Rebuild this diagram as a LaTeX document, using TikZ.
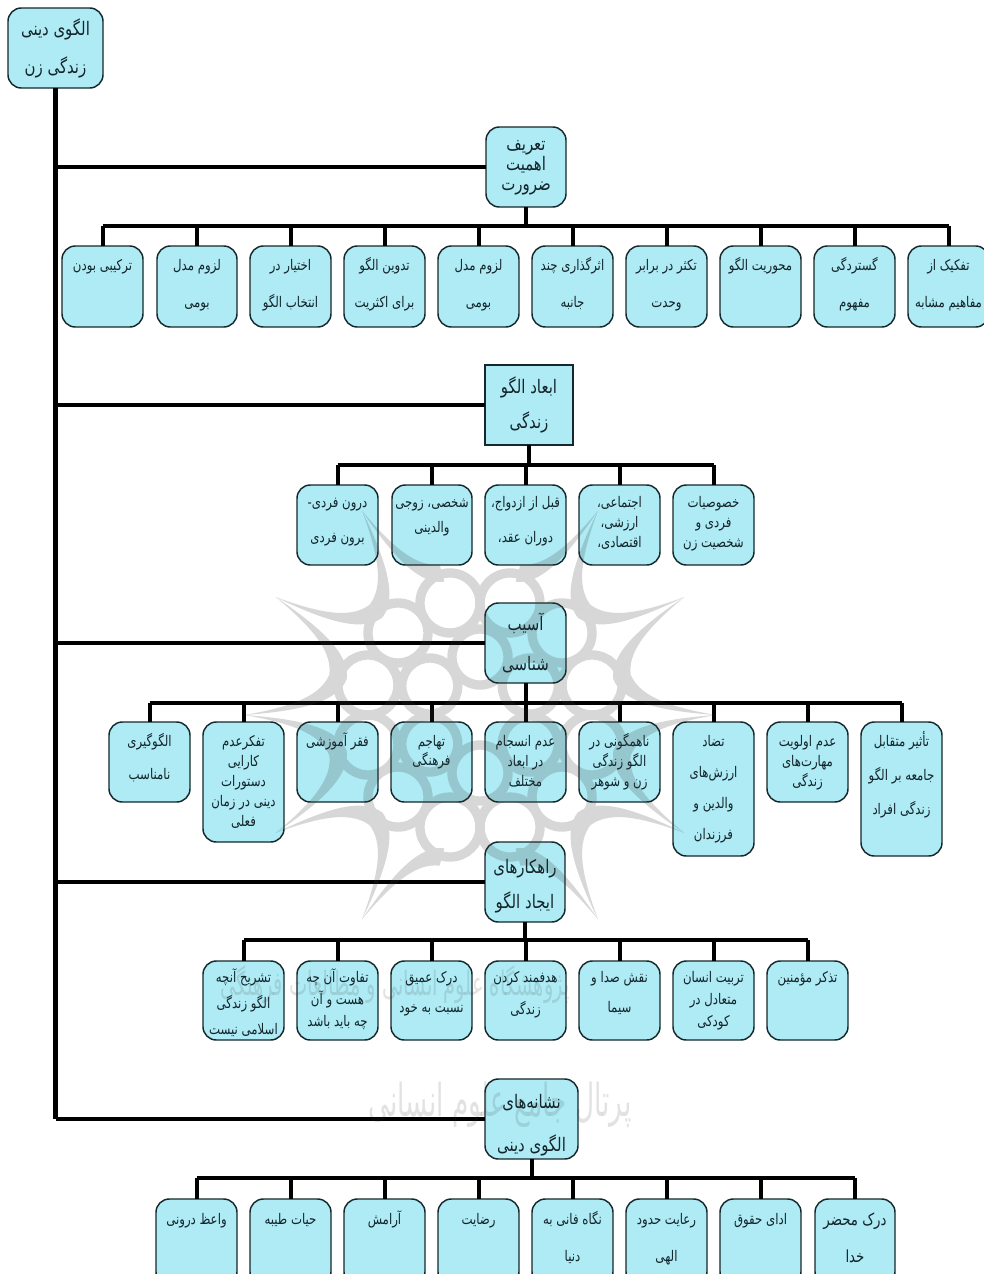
\documentclass[tikz,border=0pt]{standalone}
\usepackage{fontspec}
\setmainfont[Script=Arabic,FakeStretch=0.8]{DejaVu Sans}
\newfontfamily\wmfont[Script=Arabic]{DejaVu Sans}
\TeXXeTstate=1
\definecolor{boxfill}{HTML}{AEEBF4}
\definecolor{boxline}{HTML}{15282C}
\definecolor{boxtext}{HTML}{14242B}
\newdimen\pxu \pxu=0.75pt
\newdimen\skp
\newcommand\cs{11}
\newcommand\ps{14}
\newcommand\tl[1]{\hbox to \hsize{\hss\rule[\dimexpr-0.5\skp+0.3em\relax]{0pt}{\skp}\beginR #1\endR\hss}}
% \bx[style]{name}{x1}{y1}{x2}{y2}{first line offset}{line skip}{size}{lines}
\newcommand\bx[9][]{%
 \node[boxstyle,#1,minimum width={(#5-#3)*\pxu}] (#2) at ({(#3+#5)/2},{(#4+#6)/2})
 {\vbox to \dimexpr#6\pxu-#4\pxu\relax{\hsize=\dimexpr#5\pxu-#3\pxu\relax
   \fontsize{#8}{#8}\selectfont\skp=#7\pxu \offinterlineskip
   \vskip\dimexpr\bxoff\pxu-0.5\skp\relax #9\vfil}};}
\newcommand\bxoff{20}
\tikzset{
 boxstyle/.style={draw=boxline,fill=boxfill,text=boxtext,line width=1.1pt,rounded corners=10pt,inner sep=0pt,outer sep=0pt},
 sharp/.style={rounded corners=0pt},
 trunk/.style={draw=black,line width=3.6pt},
 bus/.style={draw=black,line width=3.4pt},
 drop/.style={draw=black,line width=3pt},
 wm/.style={draw=black!78,line width=7pt},
 wmf/.style={fill=black!78,draw=none},
 wmt/.style={text=black!78,transform shape}
}
\begin{document}
\begin{tikzpicture}[x=0.75pt,y=-0.75pt]
\clip (0,0) rectangle (984,1274);
\fill[white] (0,0) rectangle (984,1274);
% root and parents
\renewcommand\bxoff{22}\bx{root}{8}{8}{103}{88}{38}{\ps}{\tl{الگوی دینی}\tl{زندگی زن}}
\renewcommand\bxoff{18}\bx{pa}{486}{127}{566}{207}{20}{\ps}{\tl{تعریف}\tl{اهمیت}\tl{ضرورت}}
\renewcommand\bxoff{23}\bx[sharp]{pb}{485}{365}{573}{445}{35}{\ps}{\tl{ابعاد الگو}\tl{زندگی}}
\renewcommand\bxoff{22}\bx{pc}{485}{603}{566}{683}{40}{\ps}{\tl{آسیب}\tl{شناسی}}
\renewcommand\bxoff{26}\bx{pd}{485}{842}{565}{922}{35}{\ps}{\tl{راهکارهای}\tl{ایجاد الگو}}
\renewcommand\bxoff{24}\bx{pe}{485}{1079}{578}{1159}{43}{\ps}{\tl{نشانه‌های}\tl{الگوی دینی}}
% row a
\renewcommand\bxoff{20}
\bx{a1}{62}{246}{143}{327}{37}{\cs}{\tl{ترکیبی بودن}}
\bx{a2}{157}{246}{237}{327}{37}{\cs}{\tl{لزوم مدل}\tl{بومی}}
\bx{a3}{250}{246}{331}{327}{37}{\cs}{\tl{اختیار در}\tl{انتخاب الگو}}
\bx{a4}{344}{246}{425}{327}{37}{\cs}{\tl{تدوین الگو}\tl{برای اکثریت}}
\bx{a5}{438}{246}{519}{327}{37}{\cs}{\tl{لزوم مدل}\tl{بومی}}
\bx{a6}{532}{246}{613}{327}{37}{\cs}{\tl{اثرگذاری چند}\tl{جانبه}}
\bx{a7}{626}{246}{707}{327}{37}{\cs}{\tl{تکثر در برابر}\tl{وحدت}}
\bx{a8}{720}{246}{801}{327}{37}{\cs}{\tl{محوریت الگو}}
\bx{a9}{814}{246}{895}{327}{37}{\cs}{\tl{گستردگی}\tl{مفهوم}}
\bx{a10}{908}{246}{989}{327}{37}{\cs}{\tl{تفکیک از}\tl{مفاهیم مشابه}}
% row b
\renewcommand\bxoff{18}
\bx{b1}{297}{485}{378}{565}{35}{\cs}{\tl{درون فردی-}\tl{برون فردی}}
\bx{b2}{392}{485}{472}{565}{25}{\cs}{\tl{شخصی، زوجی}\tl{والدینی}}
\bx{b3}{485}{485}{566}{565}{35}{\cs}{\tl{قبل از ازدواج،}\tl{دوران عقد،}}
\bx{b4}{579}{485}{660}{565}{20}{\cs}{\tl{اجتماعی،}\tl{ارزشی،}\tl{اقتصادی،}}
\bx{b5}{673}{485}{754}{565}{20}{\cs}{\tl{خصوصیات}\tl{فردی و}\tl{شخصیت زن}}
% row c
\renewcommand\bxoff{20}
\bx{c1}{109}{722}{190}{802}{33}{\cs}{\tl{الگوگیری}\tl{نامناسب}}
\bx{c2}{203}{722}{284}{842}{20}{\cs}{\tl{تفکرعدم}\tl{کارایی}\tl{دستورات}\tl{دینی در زمان}\tl{فعلی}}
\bx{c3}{297}{722}{378}{802}{20}{\cs}{\tl{فقر آموزشی}}
\bx{c4}{391}{722}{472}{802}{19}{\cs}{\tl{تهاجم}\tl{فرهنگی}}
\bx{c5}{485}{722}{566}{802}{20}{\cs}{\tl{عدم انسجام}\tl{در ابعاد}\tl{مختلف}}
\bx{c6}{579}{722}{660}{802}{20}{\cs}{\tl{ناهمگونی در}\tl{الگو زندگی}\tl{زن و شوهر}}
\bx{c7}{673}{722}{754}{856}{31}{\cs}{\tl{تضاد}\tl{ارزش‌های}\tl{والدین و}\tl{فرزندان}}
\bx{c8}{767}{722}{848}{802}{20}{\cs}{\tl{عدم اولویت}\tl{مهارت‌های}\tl{زندگی}}
\bx{c9}{861}{722}{942}{856}{34}{\cs}{\tl{تأثیر متقابل}\tl{جامعه بر الگو}\tl{زندگی افراد}}
% row d
\renewcommand\bxoff{17}
\bx{d1}{203}{961}{284}{1040}{26}{\cs}{\tl{تشریح آنچه}\tl{الگو زندگی}\tl{اسلامی نیست}}
\bx{d2}{297}{961}{378}{1040}{22}{\cs}{\tl{تفاوت آن چه}\tl{هست و آن}\tl{چه باید باشد}}
\bx{d3}{391}{961}{472}{1040}{30}{\cs}{\tl{درک عمیق}\tl{نسبت به خود}}
\bx{d4}{485}{961}{566}{1040}{32}{\cs}{\tl{هدفمند کردن}\tl{زندگی}}
\bx{d5}{579}{961}{660}{1040}{30}{\cs}{\tl{نقش صدا و}\tl{سیما}}
\bx{d6}{673}{961}{754}{1040}{22}{\cs}{\tl{تربیت انسان}\tl{متعادل در}\tl{کودکی}}
\bx{d7}{767}{961}{848}{1040}{22}{\cs}{\tl{تذکر مؤمنین}}
% row e
\renewcommand\bxoff{21}
\bx{e1}{156}{1199}{237}{1285}{37}{\cs}{\tl{واعظ درونی}}
\bx{e2}{250}{1199}{331}{1285}{37}{\cs}{\tl{حیات طیبه}}
\bx{e3}{344}{1199}{425}{1285}{37}{\cs}{\tl{آرامش}}
\bx{e4}{438}{1199}{519}{1285}{37}{\cs}{\tl{رضایت}}
\bx{e5}{532}{1199}{613}{1285}{37}{\cs}{\tl{نگاه فانی به}\tl{دنیا}}
\bx{e6}{626}{1199}{707}{1285}{37}{\cs}{\tl{رعایت حدود}\tl{الهی}}
\bx{e7}{720}{1199}{801}{1285}{37}{\cs}{\tl{ادای حقوق}}
\bx{e8}{815}{1199}{895}{1285}{37}{12.5}{\tl{درک محضر}\tl{خدا}}
% trunk
\draw[trunk] (root.south) -- (root.south |- pe.west);
\foreach \p in {pa,pb,pc,pd,pe} \draw[trunk] (root.south |- \p.west) -- (\p.west);
% buses
\coordinate (ba) at (pa.south |- 0,226);
\coordinate (bb) at (pb.south |- 0,465);
\coordinate (bc) at (pc.south |- 0,703);
\coordinate (bd) at (pd.south |- 0,940);
\coordinate (be) at (pe.south |- 0,1178);
\draw[drop] (pa.south) -- (ba);
\draw[drop] (pb.south) -- (bb);
\draw[drop] (pc.south) -- (bc);
\draw[drop] (pd.south) -- (bd);
\draw[drop] (pe.south) -- (be);
\draw[bus] (a1.north |- ba) -- (a10.north |- ba);
\draw[bus] (b1.north |- bb) -- (b5.north |- bb);
\draw[bus] (c1.north |- bc) -- (c9.north |- bc);
\draw[bus] (d1.north |- bd) -- (d7.north |- bd);
\draw[bus] (e1.north |- be) -- (e8.north |- be);
\foreach \c in {a1,a2,a3,a4,a5,a6,a7,a8,a9,a10} \draw[drop] (\c.north |- ba) -- (\c.north);
\foreach \c in {b1,b2,b3,b4,b5} \draw[drop] (\c.north |- bb) -- (\c.north);
\foreach \c in {c1,c2,c3,c4,c5,c6,c7,c8,c9} \draw[drop] (\c.north |- bc) -- (\c.north);
\foreach \c in {d1,d2,d3,d4,d5,d6,d7} \draw[drop] (\c.north |- bd) -- (\c.north);
\foreach \c in {e1,e2,e3,e4,e5,e6,e7,e8} \draw[drop] (\c.north |- be) -- (\c.north);
% watermark
\begin{scope}[opacity=.2,transparency group]
 \begin{scope}[shift={(480,715)}]
 \foreach \k in {0,...,11} {
   \pgfmathsetmacro\cang{15+30*\k}
   \draw[wm] (\cang:116) circle[radius=30];
 }
 \foreach \t in {0,30,60,120,150,180,210,240,300,330} {
   \fill[wmf] (\t:236) .. controls (\t+3:180) and (\t+8:160) .. (\t+15:156)
     -- (\t+15:138) .. controls (\t+6:143) and (\t+1.5:172) .. (\t:236);
   \fill[wmf] (\t:236) .. controls (\t-3:180) and (\t-8:160) .. (\t-15:156)
     -- (\t-15:138) .. controls (\t-6:143) and (\t-1.5:172) .. (\t:236);
 }
 \foreach \t in {0,60,120,180,240,300} {
   \draw[wm] (\t+30:58) circle[radius=28];
 }
 \end{scope}
\end{scope}
\begin{scope}[opacity=.14]
 \node[wmt,xscale=.58,font=\wmfont\fontsize{25}{25}\selectfont] (wma) at (395,985) {\beginR پژوهشگاه علوم انسانی و مطالعات فرهنگی\endR};
 \node[wmt,xscale=.58,font=\wmfont\fontsize{34}{34}\selectfont] (wmb) at (500,1105) {\beginR پرتال جامع علوم انسانی\endR};
\end{scope}
\end{tikzpicture}
\end{document}
